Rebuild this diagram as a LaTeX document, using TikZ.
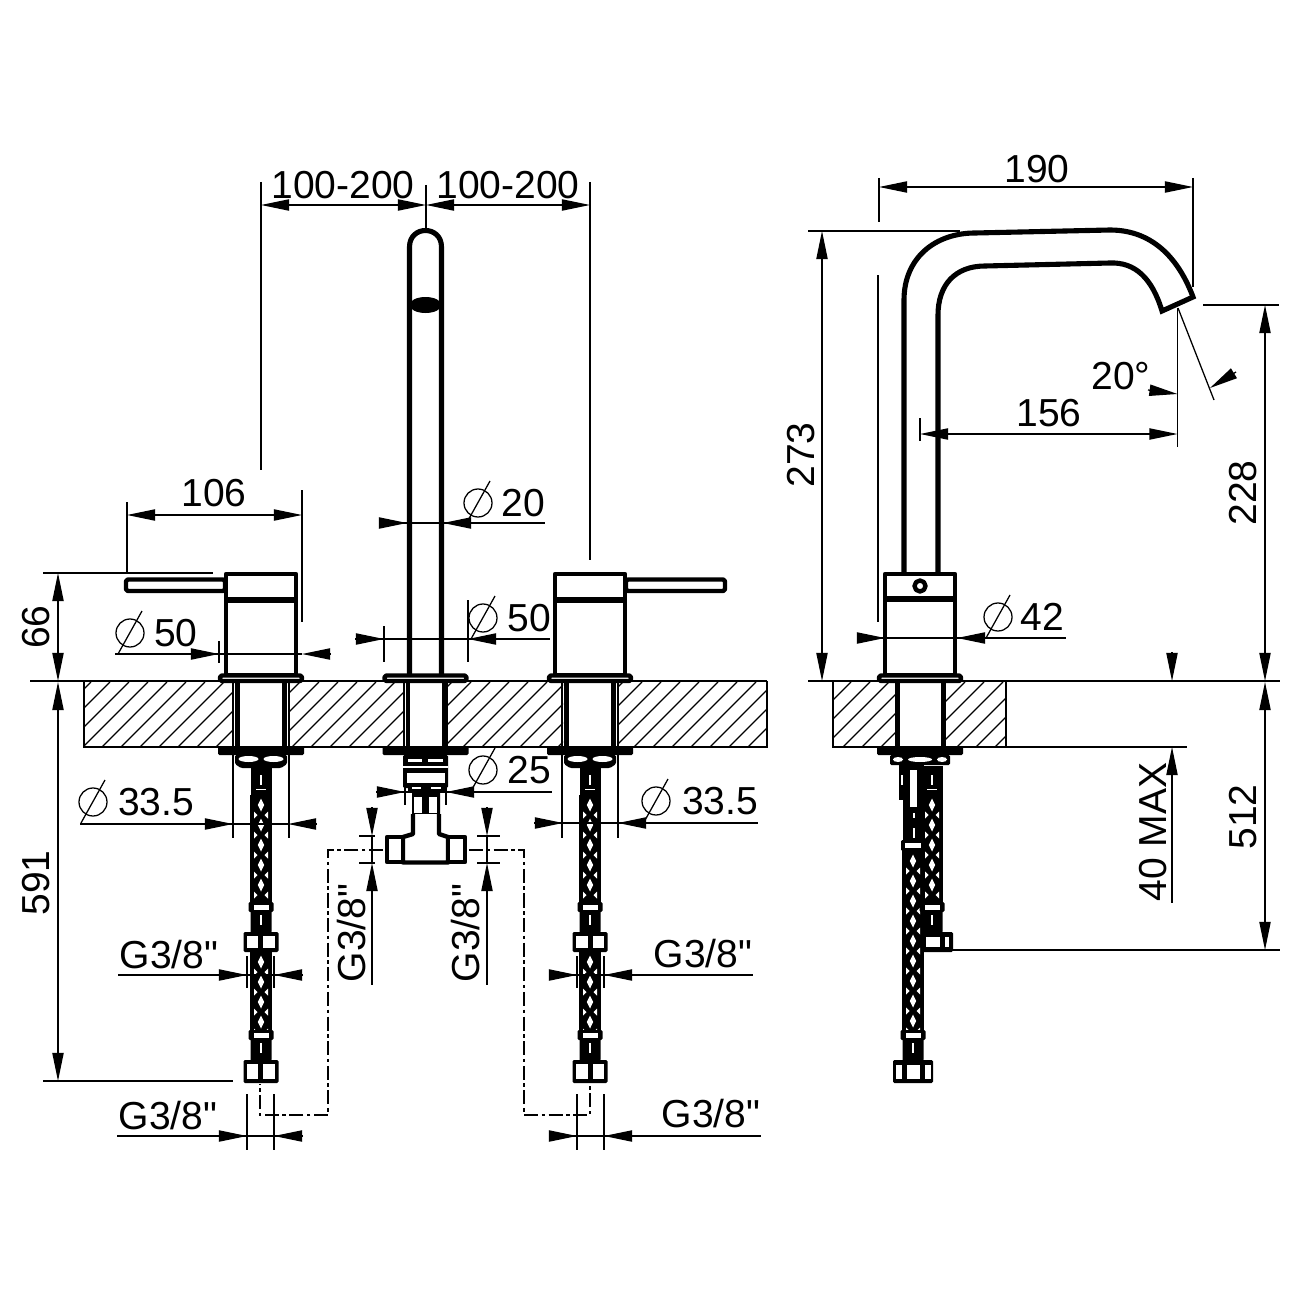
\documentclass[tikz,border=0pt]{standalone}
\usepackage{fontspec}
\newfontfamily\dimfont{Liberation Sans}
\usetikzlibrary{arrows.meta}

\tikzset{
  thinline/.style={line width=0.36pt,black},
  thickline/.style={line width=1.25pt,black,line join=round},
  dimarrow/.style={thinline,-{Triangle[length=8pt,width=3.2pt]}},
  dimtext/.style={inner sep=0pt,font=\dimfont\fontsize{11.1pt}{12pt}\selectfont},
  pipeline/.style={line width=0.36pt,dash pattern=on 4pt off 1pt on 1pt off 1pt},
  blackfill/.style={fill=black,rounded corners=0.4pt}
}

% hatch of the worktop between two x values
\newcommand{\hatchbox}[2]{
  \begin{scope}
    \clip (#1,682) rectangle (#2,747);
    \foreach \k in {-50,-31,...,1010}
      \draw[thinline] (\k,747) -- (\k+65,682);
  \end{scope}
}
% diameter sign
\newcommand{\diasign}[2]{
  \draw[thinline] (#1,#2) circle [radius=14];
  \draw[thinline] (#1+12,#2-22) -- (#1-12,#2+21);
}
% flange on top and clamp below the worktop
\newcommand{\flanges}[1]{
  \draw[thickline,fill=white,rounded corners=0.5pt] (#1-41,675.5) rectangle (#1+41,681);
  \fill[blackfill] (#1-43,746) rectangle (#1+43,755);
}
% braided piece of hose
\newcommand{\braid}[3]{
  \fill[black] (#1-11,#2) rectangle (#1+11,#3);
  \pgfmathsetmacro{\yfirst}{int(#2+10)}
  \pgfmathsetmacro{\ynext}{int(#2+30)}
  \pgfmathsetmacro{\ylast}{int(#3-8)}
  \foreach \y in {\yfirst,\ynext,...,\ylast}{
    \fill[white] (#1,\y-6.5) -- (#1+3.2,\y) -- (#1,\y+6.5) -- (#1-3.2,\y) -- cycle;
    \fill[white] (#1-7,\y+6.5) -- (#1-3.5,\y+10) -- (#1-7,\y+13.5) -- cycle;
    \fill[white] (#1+7,\y+6.5) -- (#1+3.5,\y+10) -- (#1+7,\y+13.5) -- cycle;
  }
}
% hose end above a nut that starts at y
\newcommand{\neckpart}[2]{
  \fill[blackfill] (#1-10.5,#2-28) rectangle (#1+10.5,#2+1);
  \fill[blackfill] (#1-12.5,#2-30) rectangle (#1+12.5,#2-20);
  \fill[white] (#1-7.5,#2-27) rectangle (#1+7.5,#2-22.5);
  \fill[white] (#1-1,#2-17) rectangle (#1+1,#2-7);
}
% nut with two windows
\newcommand{\nutpart}[3]{
  \fill[blackfill] (#1-17.5,#2) rectangle (#1+17.5,#3);
  \fill[white] (#1-14,#2+4) rectangle (#1-3,#3-4);
  \fill[white] (#1+2,#2+4) rectangle (#1+14,#3-4);
}
% hose top under the clamp
\newcommand{\hosetop}[1]{
  \fill[black] (#1-10.5,766) rectangle (#1+10.5,797);
  \fill[white] (#1-1,775) rectangle (#1+1,785);
  \fill[white] (#1-5,788.5) rectangle (#1+5,790);
}
% mixing valve with lever, hole and hose
\newcommand{\valveset}[2]{
  \begin{scope}[shift={(#1,0)},xscale=#2]
    \draw[thickline,fill=white,rounded corners=0.5pt] (-36,579.5) rectangle (-135,591);
    \draw[thickline,fill=white] (-35,574) rectangle (35,675);
    \draw[line width=1.7pt] (-35,600) -- (35,600);
    \draw[thickline] (-23.5,682) -- (-23.5,748) (23.5,682) -- (23.5,748);
    \draw[thinline] (-28,682) -- (-28,838) (28,682) -- (28,838);
    \flanges{0}
    \fill[blackfill] (-26,755) -- (26,755) -- (26,764) -- (20,768) -- (-20,768) -- (-26,764) -- cycle;
    \foreach \e in {-12.5,12.5}
      \fill[white] (\e,759) ellipse [x radius=10,y radius=3];
    \hosetop{0}
    \braid{0}{795}{910}
    \neckpart{0}{932}
    \nutpart{0}{932}{952}
    \braid{0}{952}{1031}
    \neckpart{0}{1060}
    \nutpart{0}{1060}{1083}
  \end{scope}
}

\begin{document}
\begin{tikzpicture}[x=0.01cm,y=-0.01cm]
\useasboundingbox (0,0) rectangle (1300,1300);

% worktops
\hatchbox{84}{233}
\hatchbox{288}{404}
\hatchbox{447}{563}
\hatchbox{618}{767}
\hatchbox{833}{896}
\hatchbox{945}{1006}
\draw[thinline] (30,681) -- (767,681) (808,681) -- (1280,681);
\draw[thinline] (84,681) -- (84,747) -- (767,747) -- (767,681);
\draw[thinline] (833,681) -- (833,747) -- (1187,747) (1006,681) -- (1006,747);
\draw[thinline] (404,682) -- (404,747) (447,682) -- (447,747);
\draw[thinline] (896,682) -- (896,747) (945,682) -- (945,747);

% valves
\valveset{261}{1}
\valveset{590}{-1}

% middle spout
\draw[line width=1.45pt] (409.5,675) -- (409.5,247) .. controls (409.5,225) and (441.5,225) .. (441.5,247) -- (441.5,675);
\fill[black] (425.5,305) ellipse [x radius=16,y radius=8];
\draw[thickline] (408,682) -- (408,748) (444,682) -- (444,748);
\flanges{425.5}
\fill[blackfill] (403,755) rectangle (448,788);
\fill[white] (408,759) rectangle (422,761.5);
\fill[white] (428,759) rectangle (443,761.5);
\fill[white] (403,766) rectangle (448,767.5);
\fill[white] (407,773) rectangle (445,783);
\fill[blackfill] (408,786) rectangle (445,792);
\fill[blackfill] (412,790) rectangle (440,816);
\fill[white] (414,797) rectangle (422,813);
\fill[white] (429,797) rectangle (437,813);
\fill[white] (412,786.5) rectangle (421,789);
\fill[white] (431,786.5) rectangle (441,789);
\draw[thickline,fill=white] (413,814) -- (413,834) -- (403,837) -- (403,862.5) -- (448,862.5) -- (448,837) -- (439,834) -- (439,814);
\draw[thickline,fill=white] (387,837) rectangle (403,862);
\draw[thickline,fill=white] (448,837) rectangle (465,862);

% connection pipes
\draw[pipeline] (383,850) -- (328,850) -- (328,1115) -- (260,1115) -- (260,1084);
\draw[pipeline] (469,850) -- (524,850) -- (524,1115) -- (590,1115) -- (590,1084);

% side view spout
\draw[line width=1.45pt] (904,574) -- (904,300) .. controls (904,258) and (935,233) .. (975,233) -- (1110,230) .. controls (1155,230) and (1180,262) .. (1193,297) -- (1162,311) .. controls (1152,278) and (1135,262) .. (1110,263) -- (985,266) .. controls (955,266) and (938,285) .. (938,315) -- (938,574);
\draw[thickline,fill=white] (885,574) rectangle (955,675);
\draw[line width=1.7pt] (885,599) -- (955,599);
\draw[thickline] (920,586) circle [radius=5.5];
\draw[thickline] (898,682) -- (898,748) (943,682) -- (943,748);
\flanges{920}
\fill[blackfill] (890,755) rectangle (950,765);
\fill[white] (898,759.5) ellipse [x radius=5,y radius=2.5];
\fill[white] (920,759.5) ellipse [x radius=12,y radius=2.5];
\fill[white] (942,759.5) ellipse [x radius=5,y radius=2.5];
% side view hoses
\fill[black] (899,765) rectangle (924,800);
\fill[black] (903,800) rectangle (924,850);
\fill[white] (910,770) rectangle (917,807);
\fill[white] (900.5,775) rectangle (903,785);
\fill[white] (912.5,813) rectangle (914.5,818);
\fill[white] (912.5,828) rectangle (914.5,838);
\fill[blackfill] (901,840) rectangle (925,851);
\fill[white] (905,843) rectangle (921,848);
\braid{913}{851}{1031}
\neckpart{913}{1060}
\fill[blackfill] (893,1060) rectangle (933,1083);
\fill[white] (896,1065) rectangle (902,1079);
\fill[white] (907,1065) rectangle (920,1079);
\fill[white] (925,1065) rectangle (931,1079);
\hosetop{932}
\braid{932}{795}{910}
\neckpart{932}{932}
\fill[blackfill] (922,932) rectangle (953,952);
\fill[white] (926,937) rectangle (940,947);
\fill[white] (945,937) rectangle (949,947);

% dimensions top
\draw[thinline] (261,182) -- (261,470) (426,185) -- (426,228) (590,182) -- (590,560);
\draw[dimarrow] (290,205) -- (261,205);
\draw[thinline] (290,205) -- (397,205);
\draw[dimarrow] (397,205) -- (426,205);
\draw[dimarrow] (455,205) -- (426,205);
\draw[thinline] (455,205) -- (561,205);
\draw[dimarrow] (561,205) -- (590,205);
\node[dimtext] (w1) at (343,185) {100-200};
\node[dimtext] (w2) at (508,185) {100-200};

% lever
\draw[thinline] (127,502) -- (127,574) (43,573) -- (213,573) (302,490) -- (302,622);
\draw[dimarrow] (156,515) -- (127,515);
\draw[thinline] (156,515) -- (273,515);
\draw[dimarrow] (273,515) -- (302,515);
\node[dimtext] (l1) at (214,493) {106};

% 66 and 591
\draw[dimarrow] (58,601) -- (58,573);
\draw[thinline] (58,601) -- (58,653);
\draw[dimarrow] (58,653) -- (58,681);
\node[dimtext,rotate=90] (h1) at (36,627) {66};
\draw[thinline] (43,1081) -- (233,1081);
\draw[dimarrow] (58,710) -- (58,682);
\draw[thinline] (58,710) -- (58,1053);
\draw[dimarrow] (58,1053) -- (58,1081);
\node[dimtext,rotate=90] (h2) at (36,883) {591};

% diameter 50 valve
\draw[thinline] (219,641) -- (219,663);
\draw[thinline] (115,654) -- (190,654) (190,654) -- (302,654);
\draw[dimarrow] (190,654) -- (219,654);
\draw[dimarrow] (330,654) -- (302,654);
\diasign{130}{633}
\node[dimtext] (d1) at (176,633) {50};

% diameter 20 spout
\draw[thinline] (383,523) -- (545,523);
\draw[dimarrow] (380,523) -- (407,523);
\draw[dimarrow] (471,523) -- (443,523);
\diasign{478}{503}
\node[dimtext] (d2) at (523,503) {20};

% diameter 50 spout
\draw[thinline] (384,626) -- (384,662) (468,600) -- (468,662);
\draw[thinline] (355,639) -- (550,639);
\draw[dimarrow] (355,639) -- (384,639);
\draw[dimarrow] (496,639) -- (468,639);
\diasign{483}{618}
\node[dimtext] (d3) at (529,618) {50};

% diameter 25
\draw[thinline] (405,786) -- (405,805) (446,786) -- (446,805);
\draw[thinline] (376,792) -- (552,792);
\draw[dimarrow] (376,792) -- (405,792);
\draw[dimarrow] (475,792) -- (446,792);
\diasign{483}{770}
\node[dimtext] (d4) at (529,770) {25};

% diameter 33.5
\draw[thinline] (80,824) -- (233,824) (233,824) -- (288,824);
\draw[dimarrow] (203,824) -- (233,824);
\draw[dimarrow] (317,824) -- (288,824);
\diasign{93}{802}
\node[dimtext] (d5) at (156,802) {33.5};
\draw[thinline] (534,823) -- (758,823);
\draw[dimarrow] (534,823) -- (563,823);
\draw[dimarrow] (646,823) -- (618,823);
\diasign{656}{801}
\node[dimtext] (d6) at (720,801) {33.5};

% G3/8 middle fitting
\draw[thinline] (359,836) -- (375,836) (359,863) -- (375,863) (477,836) -- (500,836) (477,863) -- (500,863);
\draw[dimarrow] (372,807) -- (372,836);
\draw[dimarrow] (372,891) -- (372,863);
\draw[thinline] (372,891) -- (372,985) (372,836) -- (372,863);
\draw[dimarrow] (487,807) -- (487,836);
\draw[dimarrow] (487,891) -- (487,863);
\draw[thinline] (487,891) -- (487,985) (487,836) -- (487,863);
\node[dimtext,rotate=90] (g1) at (352,933) {G3/8"};
\node[dimtext,rotate=90] (g2) at (466,933) {G3/8"};

% G3/8 hoses
\draw[thinline] (247,956) -- (247,988) (274,956) -- (274,988) (118,975) -- (303,975);
\draw[dimarrow] (218,975) -- (247,975);
\draw[dimarrow] (303,975) -- (274,975);
\node[dimtext] (g3) at (169,955) {G3/8"};
\draw[thinline] (247,1094) -- (247,1150) (274,1094) -- (274,1150) (117,1136) -- (303,1136);
\draw[dimarrow] (218,1136) -- (247,1136);
\draw[dimarrow] (303,1136) -- (274,1136);
\node[dimtext] (g4) at (168,1116) {G3/8"};
\draw[thinline] (577,956) -- (577,988) (604,956) -- (604,988) (549,975) -- (753,975);
\draw[dimarrow] (549,975) -- (577,975);
\draw[dimarrow] (632,975) -- (604,975);
\node[dimtext] (g5) at (703,954) {G3/8"};
\draw[thinline] (577,1094) -- (577,1150) (604,1094) -- (604,1150) (549,1136) -- (761,1136);
\draw[dimarrow] (549,1136) -- (577,1136);
\draw[dimarrow] (632,1136) -- (604,1136);
\node[dimtext] (g6) at (711,1114) {G3/8"};

% side view, 190 and 273
\draw[thinline] (879,178) -- (879,222) (1193,178) -- (1193,287);
\draw[dimarrow] (908,187) -- (879,187);
\draw[thinline] (908,187) -- (1164,187);
\draw[dimarrow] (1164,187) -- (1193,187);
\node[dimtext] (s1) at (1037,169) {190};
\draw[thinline] (808,231) -- (960,231);
\draw[dimarrow] (822,260) -- (822,231);
\draw[thinline] (822,260) -- (822,652);
\draw[dimarrow] (822,652) -- (822,681);
\node[dimtext,rotate=90] (s2) at (801,455) {273};

% diameter 42
\draw[thinline] (878,275) -- (878,622);
\draw[thinline] (857,638) -- (1066,638);
\draw[dimarrow] (857,638) -- (885,638);
\draw[dimarrow] (985,638) -- (957,638);
\diasign{998}{617}
\node[dimtext] (s3) at (1042,617) {42};

% 156 and 20 degrees
\draw[thinline] (920,418) -- (920,441) (1177.5,308) -- (1177.5,447);
\draw[thinline] (949,434) -- (1149,434);
\draw[dimarrow] (949,434) -- (920,434);
\draw[dimarrow] (1149,434) -- (1177.5,434);
\node[dimtext] (s4) at (1049,413) {156};
\draw[thinline] (1178,308) -- (1214,400);
\draw[dimarrow] (1148,390) -- (1177.5,394);
\draw[dimarrow] (1236,372) -- (1210,388);
\node[dimtext] (s5) at (1121,376) {20°};

% 228 and 512
\draw[thinline] (1203,305) -- (1279,305) (945,950) -- (1280,950);
\draw[dimarrow] (1265,335) -- (1265,305);
\draw[thinline] (1265,335) -- (1265,652);
\draw[dimarrow] (1265,652) -- (1265,681);
\node[dimtext,rotate=90] (s6) at (1243,493) {228};
\draw[dimarrow] (1265,710) -- (1265,682);
\draw[thinline] (1265,710) -- (1265,921);
\draw[dimarrow] (1265,921) -- (1265,950);
\node[dimtext,rotate=90] (s7) at (1243,817) {512};

% 40 MAX
\draw[dimarrow] (1172,652) -- (1172,681);
\draw[dimarrow] (1172,776) -- (1172,747);
\draw[thinline] (1172,776) -- (1172,903);
\node[dimtext,rotate=90] (s8) at (1153,832) {40 MAX};

\end{tikzpicture}
\end{document}
